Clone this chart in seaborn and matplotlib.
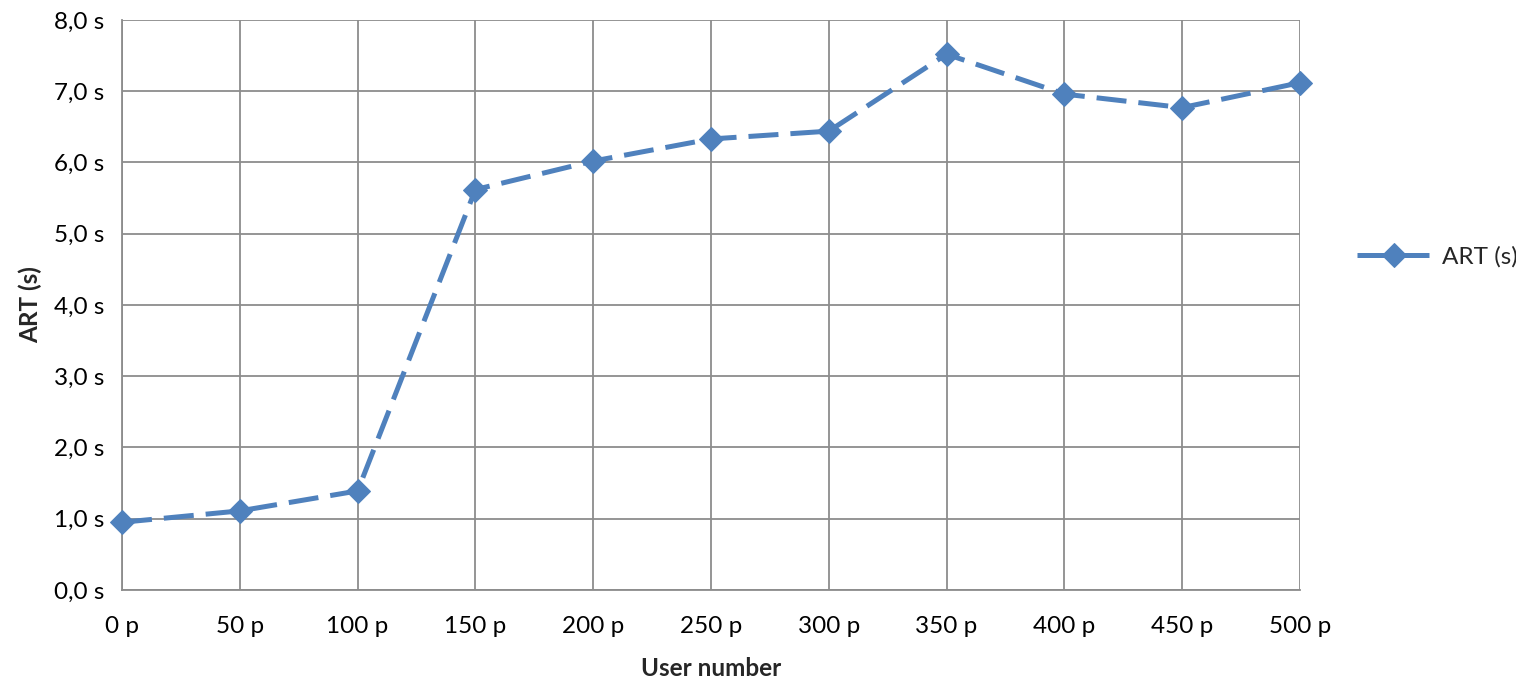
import numpy as np
import pandas as pd
import matplotlib
matplotlib.use("Agg")
import matplotlib.pyplot as plt
import seaborn as sns

# === Data ===
users = [0, 50, 100, 150, 200, 250, 300, 350, 400, 450, 500]
art = [0.95, 1.11, 1.39, 5.62, 6.02, 6.33, 6.44, 7.52, 6.96, 6.77, 7.12]
series_name = "ART (s)"

df = pd.DataFrame({"users": users, "art": art})

sns.set_style("white")
plt.rcParams['font.family'] = ['Lato', 'DejaVu Sans']

grid_col = "#8c8c8c"
line_col = "#4f81bd"
fs = 17.5

fig = plt.figure(figsize=(15.16, 6.8), dpi=100)
ax = fig.add_axes([0.0805, 0.1324, 0.777, 0.8382])

sns.lineplot(data=df, x="users", y="art", ax=ax, color=line_col,
             linewidth=3.6, marker="D", markersize=12, markeredgecolor=line_col,
             label=series_name, clip_on=False, zorder=5)
ax.lines[0].set_dashes([6, 2.4])

ax.set_xlim(0, 500)
ax.set_ylim(0, 8)
ax.set_xticks(np.arange(0, 501, 50))
ax.set_yticks(np.arange(0, 8.1, 1))
ax.set_xticklabels([f"{v} p" for v in range(0, 501, 50)])
ax.set_yticklabels([f"{v:.1f} s".replace(".", ",") for v in np.arange(0, 8.1, 1)])

ax.grid(True, color=grid_col, linewidth=1.3)
ax.set_axisbelow(True)
for side in ["top", "right"]:
    ax.spines[side].set_visible(False)
for side in ["left", "bottom"]:
    ax.spines[side].set_color(grid_col)
    ax.spines[side].set_linewidth(1.3)

ax.tick_params(axis="both", length=7, width=1.3, color=grid_col,
               labelsize=fs, labelcolor="black", direction="out", pad=6)
ax.tick_params(axis="x", pad=12)

ax.set_xlabel("User number", fontsize=fs, fontweight="bold", labelpad=14)
ax.set_ylabel("ART (s)", fontsize=fs, fontweight="bold", labelpad=8)

leg = ax.legend(loc="center left", bbox_to_anchor=(1.03, 0.585), frameon=False,
                fontsize=fs, handlelength=3.0, handletextpad=0.5)

fig.savefig("out.png", dpi=100)
